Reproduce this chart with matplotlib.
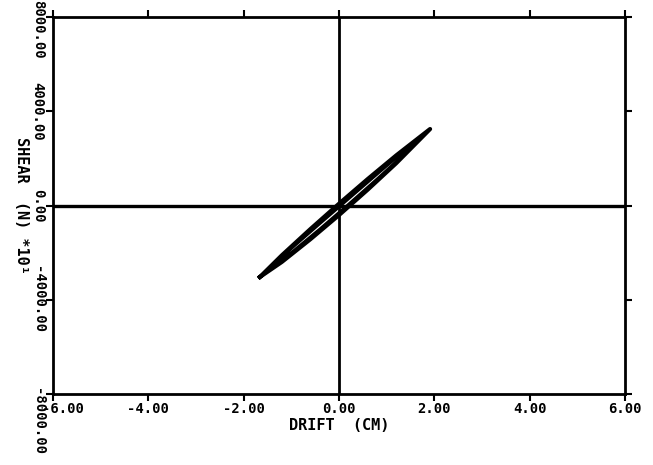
import matplotlib
matplotlib.use("Agg")
from matplotlib import pyplot as plt
from matplotlib.transforms import ScaledTranslation

# drift (cm) and shear (N*10^1) for the two recorded cycles
outer_up_x = [-1.66, -1.2, -0.6, 0.0, 0.6, 1.2, 1.91]
outer_up_y = [-3034, -2115, -1000, 76, 1120, 2127, 3246]
outer_down_x = [1.91, 1.2, 0.6, 0.0, -0.6, -1.2, -1.66]
outer_down_y = [3246, 1797, 671, -404, -1429, -2395, -3034]

inner_up_x = [-1.5, -1.0, -0.4, 0.2, 0.8, 1.4, 1.75]
inner_up_y = [-2760, -1820, -760, 290, 1340, 2380, 2964]
inner_down_x = [1.75, 1.4, 0.8, 0.2, -0.4, -1.0, -1.5]
inner_down_y = [2964, 2229, 1123, 48, -998, -2003, -2760]

x_ticks = [-6, -4, -2, 0, 2, 4, 6]
y_ticks = [-8000, -4000, 0, 4000, 8000]


def main():
    plt.rcParams['font.family'] = ['DejaVu Sans Mono', 'DejaVu Sans']
    plt.rcParams['font.weight'] = 'bold'

    fig = plt.figure(figsize=(6.53, 4.65), dpi=100)
    ax = fig.add_axes([0.0812, 0.1527, 0.876, 0.8107])

    ax.axhline(0, color='black', lw=2.4, zorder=1)
    ax.axvline(0, color='black', lw=2.0, zorder=1)

    ax.plot(outer_up_x + outer_down_x, outer_up_y + outer_down_y, color='black', lw=3.0, zorder=2)
    ax.plot(inner_up_x + inner_down_x, inner_up_y + inner_down_y, color='black', lw=2.2, zorder=2)

    ax.set_xlim(-6, 6)
    ax.set_ylim(-8000, 8000)
    ax.set_xticks(x_ticks)
    ax.set_yticks(y_ticks)
    ax.set_xticklabels(["%.2f" % v for v in x_ticks], fontsize=10, fontweight='bold')
    ax.set_yticklabels(["%.2f" % v for v in y_ticks], fontsize=10, fontweight='bold',
                       rotation=-90, va='center')

    ax.tick_params(direction='out', length=5, width=1.5, top=True, right=True, pad=1)
    for spine in ax.spines.values():
        spine.set_linewidth(2.0)

    # push the end labels inward like the plotter did
    labels = ax.get_yticklabels()
    labels[0].set_transform(labels[0].get_transform() + ScaledTranslation(0, -0.28, fig.dpi_scale_trans))
    labels[-1].set_transform(labels[-1].get_transform() + ScaledTranslation(0, -0.12, fig.dpi_scale_trans))
    first_x = ax.get_xticklabels()[0]
    first_x.set_transform(first_x.get_transform() + ScaledTranslation(0.1, 0, fig.dpi_scale_trans))

    ax.set_xlabel("DRIFT  (CM)", fontsize=11, fontweight='bold', labelpad=1)
    ax.set_ylabel("SHEAR  (N) *10\u00b9", fontsize=11, fontweight='bold', rotation=-90,
                  va='center', ha='center')
    ax.yaxis.set_label_coords(-0.055, 0.5)

    plt.savefig("out.png", dpi=100)
    plt.close()


if __name__ == "__main__":
    main()
